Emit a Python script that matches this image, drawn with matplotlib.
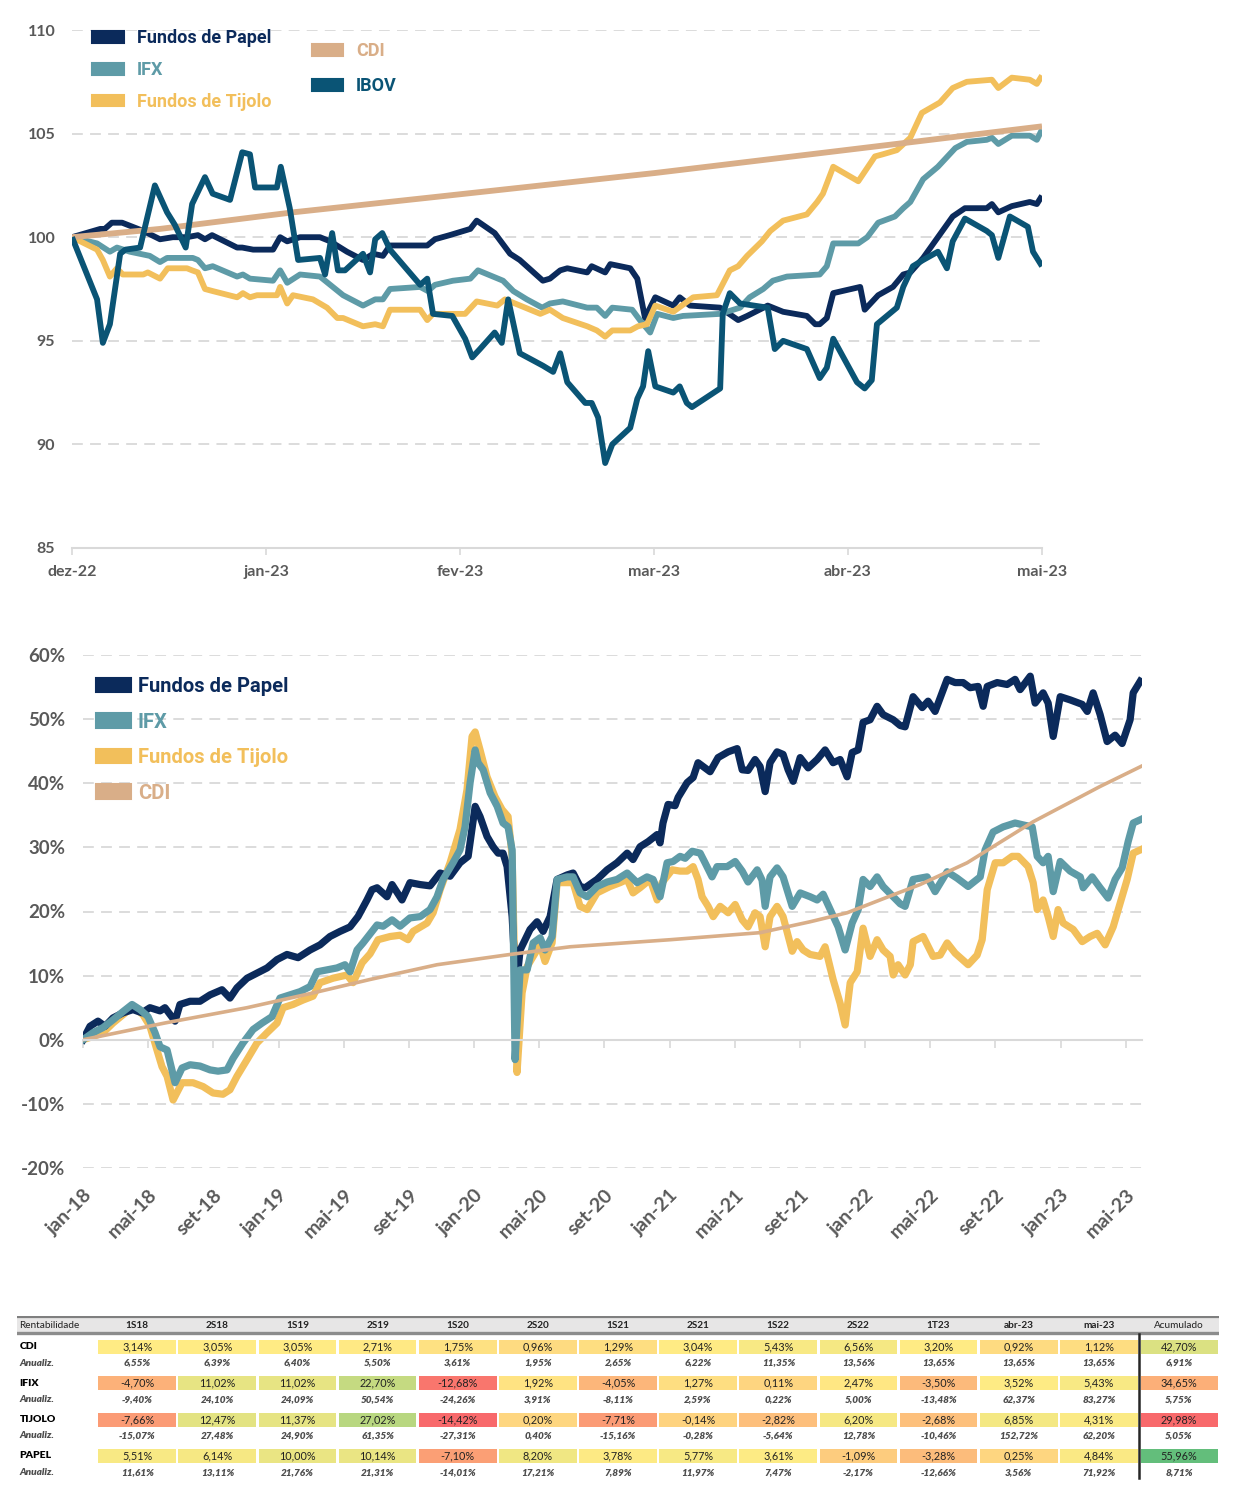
import numpy as np
import matplotlib
matplotlib.use("Agg")
import matplotlib.pyplot as plt
from matplotlib.patches import Patch, Rectangle

plt.rcParams['font.family'] = ['Lato', 'DejaVu Sans']

# ---------------- cores
c_papel = '#0B2A5B'
c_ifx = '#5E9BA7'
c_tijolo = '#F2BF5B'
c_cdi = '#D9AE88'
c_ibov = '#0A5475'
c_txt = '#595959'
c_grid = '#D9D9D9'

# ---------------- grafico 1: base 100 (dias desde 01/12/2022)
meses_top = ['dez-22', 'jan-23', 'fev-23', 'mar-23', 'abr-23', 'mai-23']

dias_ibov = [0, 3.9, 4.8, 5.9, 7.5, 8.3, 10.6, 12.9, 14.8, 16.0, 17.7, 18.7, 20.7, 21.9, 24.6, 26.5, 27.7, 28.5, 31.9, 32.5,
             33.9, 35.2, 38.6, 39.4, 40.5, 41.4, 42.5, 45.3, 46.4, 47.2, 48.3, 49.5, 54.2, 55.3, 56.2, 59.2, 61.2, 62.3, 63.5, 65.8,
             66.9, 67.9, 69.7, 73.3, 74.9, 76.0, 77.1, 79.9, 80.9, 81.9, 83.0, 84.1, 86.9, 88.0, 88.9, 89.7, 90.8, 93.6, 94.6, 95.7,
             96.5, 100.9, 101.3, 102.4, 104.0, 108.3, 109.4, 110.7, 114.4, 116.4, 117.5, 118.5, 122.2, 123.4, 124.5, 125.3, 128.4,
             129.4, 130.9, 132.5, 134.8, 136.2, 137.1, 139.0, 142.4, 143.2, 144.2, 146.0, 148.8, 149.6, 151.0]
ibov = [100, 97.0, 94.9, 95.8, 99.2, 99.4, 99.5, 102.5, 101.2, 100.6, 99.5, 101.6, 102.9, 102.1, 101.8, 104.1, 104.0, 102.4, 102.4, 103.4,
        101.4, 98.9, 99.0, 98.2, 100.2, 98.4, 98.4, 99.2, 98.3, 99.9, 100.2, 99.4, 97.7, 98.0, 96.3, 96.2, 95.1, 94.2, 94.6, 95.4,
        94.9, 97.0, 94.4, 93.8, 93.5, 94.4, 93.0, 92.0, 92.0, 91.3, 89.1, 90.0, 90.8, 92.2, 92.8, 94.5, 92.8, 92.5, 92.8, 92.0,
        91.8, 92.7, 96.3, 97.3, 96.8, 96.6, 94.6, 95.0, 94.6, 93.2, 93.7, 95.1, 93.0, 92.7, 93.1, 95.8, 96.6, 97.6, 98.6, 98.9,
        99.3, 98.5, 99.8, 100.9, 100.3, 100.1, 99.0, 101.0, 100.5, 99.3, 98.6]

dias_papel = [0, 4.4, 5.1, 6.2, 7.8, 11.1, 13.7, 15.7, 17.9, 19.6, 20.7, 21.8, 25.7, 26.5, 28.2, 31.3, 32.4, 33.5, 35.5, 38.6,
              40.2, 42.8, 45.3, 46.9, 48.4, 49.5, 55.3, 56.5, 58.8, 62.0, 63.0, 65.8, 68.2, 69.7, 73.3, 74.4, 76.0, 77.1, 80.2, 80.9,
              83.0, 83.8, 86.9, 88.0, 89.2, 90.8, 93.6, 94.6, 96.2, 100.9, 103.7, 105.1, 108.3, 110.7, 114.4, 115.7, 116.4, 117.5,
              118.5, 122.7, 123.4, 125.5, 127.8, 129.4, 130.5, 132.5, 137.1, 139.0, 142.4, 143.2, 144.2, 146.3, 149.1, 150.2, 151.0]
papel = [100, 100.4, 100.4, 100.7, 100.7, 100.3, 99.9, 100.0, 100.0, 100.1, 99.9, 100.1, 99.5, 99.5, 99.4, 99.4, 100.0, 99.8, 100.0, 100.0,
         99.8, 99.3, 98.9, 99.2, 99.1, 99.6, 99.6, 99.9, 100.1, 100.4, 100.8, 100.2, 99.2, 98.9, 97.9, 98.0, 98.4, 98.5, 98.3, 98.6,
         98.3, 98.7, 98.5, 98.0, 96.1, 97.1, 96.7, 97.1, 96.7, 96.6, 96.0, 96.2, 96.7, 96.4, 96.2, 95.8, 95.8, 96.1, 97.3, 97.6,
         96.5, 97.2, 97.6, 98.2, 98.3, 99.0, 101.0, 101.4, 101.4, 101.6, 101.2, 101.5, 101.7, 101.6, 102.0]

dias_ifx = [0, 3.9, 5.9, 7.0, 9.0, 12.1, 13.7, 14.8, 18.8, 19.6, 20.7, 21.9, 25.7, 26.6, 27.7, 31.3, 32.4, 33.5, 35.5, 38.6,
            42.2, 45.3, 47.2, 48.4, 49.5, 54.2, 55.4, 56.5, 59.3, 62.0, 63.2, 67.1, 68.7, 70.8, 73.2, 74.4, 76.4, 80.2, 81.7, 83.0,
            84.1, 87.2, 88.4, 90.0, 91.1, 93.6, 95.1, 100.9, 104.0, 105.5, 107.6, 109.1, 111.3, 116.4, 117.5, 118.5, 122.4, 123.8,
            125.5, 128.1, 129.4, 130.5, 132.5, 134.8, 137.5, 139.3, 142.4, 143.2, 144.2, 146.3, 149.1, 150.2, 151.0]
ifx = [100, 99.7, 99.3, 99.5, 99.3, 99.1, 98.8, 99.0, 99.0, 98.9, 98.5, 98.6, 98.1, 98.2, 98.0, 97.9, 98.4, 97.8, 98.2, 98.1,
       97.2, 96.7, 97.0, 97.0, 97.5, 97.6, 97.4, 97.7, 97.9, 98.0, 98.4, 97.9, 97.4, 97.0, 96.6, 96.8, 96.9, 96.6, 96.6, 96.2,
       96.6, 96.5, 96.0, 95.4, 96.3, 96.1, 96.2, 96.3, 96.6, 97.1, 97.5, 97.9, 98.1, 98.2, 98.6, 99.7, 99.7, 100.0, 100.7, 101.0,
       101.4, 101.7, 102.8, 103.4, 104.3, 104.6, 104.7, 104.8, 104.5, 104.9, 104.9, 104.7, 105.2]

dias_tijolo = [0, 3.9, 4.8, 5.9, 7.0, 7.9, 11.1, 11.8, 13.7, 14.9, 17.9, 18.7, 19.6, 20.7, 21.9, 25.7, 26.6, 27.7, 28.8, 31.9,
               32.4, 33.5, 34.4, 37.5, 39.7, 41.3, 42.2, 45.3, 47.2, 48.4, 49.5, 54.2, 55.3, 56.2, 61.2, 63.0, 66.2, 67.4, 72.9, 74.4,
               76.4, 80.2, 81.7, 83.0, 84.1, 86.9, 88.1, 89.5, 90.8, 93.6, 96.7, 100.4, 102.4, 103.7, 105.1, 107.4, 108.7, 110.7,
               114.4, 116.0, 116.9, 118.5, 122.4, 125.0, 126.2, 128.4, 130.5, 132.3, 135.1, 137.1, 139.3, 143.2, 144.2, 146.3,
               149.1, 150.2, 151.0]
tijolo = [100, 99.4, 98.9, 98.1, 98.5, 98.2, 98.2, 98.3, 98.0, 98.5, 98.5, 98.4, 98.3, 97.5, 97.4, 97.1, 97.3, 97.1, 97.2, 97.2,
          97.6, 96.8, 97.2, 97.0, 96.6, 96.1, 96.1, 95.7, 95.8, 95.7, 96.5, 96.5, 96.0, 96.3, 96.3, 96.9, 96.7, 97.0, 96.3, 96.5,
          96.1, 95.7, 95.5, 95.2, 95.5, 95.5, 95.7, 95.8, 96.7, 96.4, 97.1, 97.2, 98.4, 98.6, 99.1, 99.8, 100.3, 100.8, 101.1, 101.7,
          102.1, 103.4, 102.7, 103.9, 104.0, 104.2, 104.8, 106.0, 106.5, 107.2, 107.5, 107.6, 107.2, 107.7, 107.6, 107.4, 107.8]

dias_cdi = [0, 13.7, 34.4, 55.3, 76.0, 90.8, 120.3, 151.0]
cdi = [100, 100.4, 101.2, 101.9, 102.6, 103.1, 104.2, 105.35]

# ---------------- grafico 2: acumulado % (meses desde jan-18)
rotulos_base = ['jan-18', 'mai-18', 'set-18', 'jan-19', 'mai-19', 'set-19', 'jan-20', 'mai-20', 'set-20',
                'jan-21', 'mai-21', 'set-21', 'jan-22', 'mai-22', 'set-22', 'jan-23', 'mai-23']

meses_papel = [0, 0.43, 0.92, 1.35, 1.84, 2.46, 3.07, 3.62, 4.11, 4.73, 5.03, 5.65, 5.95, 6.57, 7.18, 7.80, 8.53, 9.02, 9.45, 10.07,
               10.68, 11.30, 11.91, 12.52, 13.20, 13.94, 14.55, 15.16, 15.78, 16.39, 16.88, 17.43, 17.74, 18.05, 18.66, 18.97,
               19.58, 20.07, 20.69, 21.30, 21.92, 22.53, 23.14, 23.64, 24.07, 24.37, 24.80, 25.17, 25.48, 25.78, 26.03, 26.34,
               26.58, 26.83, 27.44, 27.87, 28.24, 28.67, 29.10, 29.71, 30.08, 30.51, 30.82, 31.55, 32.17, 32.78, 33.40, 33.76,
               34.19, 34.69, 35.24, 35.42, 35.60, 35.91, 36.34, 36.53, 37.08, 37.45, 37.75, 38.49, 38.98, 39.60, 40.15, 40.46,
               40.82, 41.25, 41.56, 41.87, 42.17, 42.60, 42.97, 43.28, 43.59, 44.02, 44.51, 45.06, 45.55, 46.04, 46.47, 46.90,
               47.21, 47.58, 47.88, 48.31, 48.74, 49.11, 49.73, 50.16, 50.46, 50.95, 51.51, 51.87, 52.30, 53.04, 53.53, 54.02,
               54.45, 54.94, 55.25, 55.50, 56.11, 56.72, 57.21, 57.52, 58.14, 58.44, 58.93, 59.24, 59.55, 59.98, 60.59, 61.33,
               61.64, 62.00, 62.43, 62.86, 63.35, 63.78, 64.27, 64.46, 64.89]
papel_acum = [0, 2.1, 2.9, 2.1, 3.4, 4.2, 4.7, 4.2, 5.0, 4.5, 5.0, 2.9, 5.5, 6.0, 6.0, 7.0, 7.8, 6.5, 8.1, 9.6,
              10.4, 11.2, 12.5, 13.3, 12.8, 14.0, 14.8, 16.1, 16.9, 17.6, 19.2, 21.8, 23.4, 23.7, 22.3, 24.2, 21.8, 24.5, 24.2, 24.0,
              26.0, 25.5, 27.6, 28.6, 36.4, 34.8, 31.7, 30.1, 29.1, 29.1, 27.0, 19.2, 8.0, 14.0, 17.2, 18.4, 16.9, 19.2, 25.0, 25.7,
              26.0, 23.9, 23.7, 25.0, 26.5, 27.6, 29.1, 28.1, 30.1, 30.9, 32.0, 30.7, 33.8, 36.7, 36.5, 37.8, 40.1, 40.9, 43.2, 41.8,
              44.0, 44.9, 45.4, 42.1, 42.0, 43.7, 42.6, 38.7, 43.2, 44.9, 44.5, 42.1, 40.3, 44.0, 42.4, 43.7, 45.2, 43.2, 43.7, 41.0,
              44.8, 45.2, 49.5, 49.9, 52.0, 50.7, 49.9, 49.0, 48.8, 53.5, 51.8, 52.8, 51.2, 56.2, 55.7, 55.7, 54.9, 55.1, 52.0, 55.1,
              55.7, 55.4, 56.2, 54.6, 56.7, 52.5, 54.1, 52.5, 47.3, 53.5, 53.0, 52.3, 51.2, 54.1, 50.7, 46.5, 47.5, 46.2, 49.9, 54.1,
              55.9]

meses_ifx = [0, 0.61, 1.23, 1.84, 2.46, 3.01, 3.50, 3.99, 4.42, 4.73, 5.16, 5.65, 6.08, 6.57, 7.18, 7.80, 8.29, 8.84, 9.21, 9.82,
             10.44, 10.99, 11.60, 12.09, 12.71, 13.32, 13.94, 14.37, 14.98, 15.59, 16.08, 16.39, 16.82, 17.19, 17.62, 18.05,
             18.42, 18.97, 19.46, 20.07, 20.69, 21.30, 21.73, 22.10, 22.71, 23.14, 23.45, 23.76, 24.07, 24.25, 24.56, 24.99,
             25.42, 25.78, 26.09, 26.34, 26.52, 26.83, 27.26, 27.63, 28.06, 28.36, 28.79, 29.10, 29.71, 30.08, 30.51, 30.94,
             31.55, 32.17, 32.78, 33.40, 34.01, 34.62, 34.99, 35.42, 35.85, 36.22, 36.65, 36.96, 37.39, 37.88, 38.18, 38.61,
             38.92, 39.54, 40.03, 40.46, 40.82, 41.38, 41.68, 41.87, 42.17, 42.60, 42.97, 43.53, 44.02, 44.63, 45.06, 45.43,
             45.86, 46.35, 46.78, 47.21, 47.58, 47.88, 48.31, 48.74, 49.11, 49.73, 50.16, 50.46, 50.95, 51.81, 52.30, 53.04,
             53.65, 54.33, 55.07, 55.37, 55.86, 56.48, 57.21, 57.71, 58.26, 58.57, 58.93, 59.24, 59.55, 59.98, 60.59, 61.21,
             61.39, 61.94, 62.43, 62.92, 63.35, 63.78, 64.15, 64.46, 64.89]
ifx_acum = [0, 1.1, 1.9, 3.1, 4.4, 5.5, 4.7, 3.6, 1.1, -1.1, -1.6, -6.7, -4.4, -3.9, -4.1, -4.7, -4.9, -4.7, -2.9, -0.5,
            1.6, 2.6, 3.6, 6.5, 7.0, 7.5, 8.3, 10.6, 10.9, 11.2, 11.7, 10.6, 14.0, 15.1, 16.5, 17.9, 17.7, 18.7, 17.7, 19.0,
            19.2, 20.3, 22.3, 25.0, 27.6, 29.6, 33.2, 40.1, 45.2, 43.2, 42.1, 38.5, 36.4, 33.8, 33.2, 29.6, -3.1, 10.9, 10.9, 15.1,
            15.9, 14.0, 16.1, 25.0, 25.4, 25.4, 22.9, 22.3, 23.9, 24.6, 25.0, 26.0, 24.5, 25.4, 25.0, 22.3, 27.6, 27.8, 28.6, 28.3,
            29.4, 29.1, 27.6, 25.4, 27.0, 27.0, 27.8, 26.3, 24.6, 26.5, 24.9, 20.8, 25.4, 26.8, 25.4, 20.8, 22.9, 22.3, 21.8, 22.7,
            20.3, 17.6, 14.0, 18.2, 20.3, 25.0, 23.9, 25.4, 23.9, 22.3, 21.2, 20.8, 25.0, 25.4, 23.1, 26.2, 25.2, 23.9, 25.4, 29.6,
            32.4, 33.2, 33.8, 33.5, 33.2, 28.6, 27.6, 28.6, 23.1, 27.8, 26.3, 25.4, 23.7, 25.4, 23.7, 22.1, 25.0, 26.8, 30.9, 33.8,
            34.3]

meses_tijolo = [0, 0.61, 1.23, 1.84, 2.46, 3.07, 3.68, 4.11, 4.54, 4.85, 5.16, 5.53, 6.08, 6.75, 7.37, 7.98, 8.59, 9.02, 9.45, 10.07,
                10.68, 11.30, 11.91, 12.28, 12.89, 13.51, 14.12, 14.55, 15.35, 16.21, 16.58, 17.13, 17.62, 18.11, 18.85, 19.46,
                19.95, 20.26, 21.12, 21.49, 21.92, 22.53, 23.14, 23.57, 23.88, 24.07, 24.37, 24.80, 25.29, 25.72, 26.09, 26.34,
                26.64, 26.95, 27.26, 27.63, 28.06, 28.36, 28.79, 29.10, 29.71, 30.08, 30.51, 30.94, 31.55, 32.35, 32.97, 33.40,
                33.76, 34.19, 34.81, 35.24, 35.54, 35.85, 36.16, 36.65, 37.08, 37.45, 37.75, 38.00, 38.37, 38.68, 39.11, 39.60,
                40.03, 40.46, 40.82, 41.25, 41.56, 41.87, 42.17, 42.60, 42.97, 43.53, 43.83, 44.20, 44.63, 45.24, 45.55, 46.04,
                46.47, 46.78, 47.09, 47.52, 47.88, 48.31, 48.74, 49.11, 49.54, 49.73, 50.03, 50.46, 50.78, 50.95, 51.57, 52.18,
                52.61, 53.04, 53.53, 54.33, 54.88, 55.19, 55.50, 55.99, 56.48, 57.03, 57.40, 58.01, 58.32, 58.57, 58.93, 59.24,
                59.55, 59.85, 60.16, 60.78, 61.33, 61.82, 62.25, 62.74, 63.23, 63.66, 64.09, 64.46, 64.89]
tijolo_acum = [0, 0.5, 1.1, 2.6, 3.9, 5.2, 3.9, 2.1, -1.6, -4.2, -5.7, -9.4, -6.7, -6.7, -7.3, -8.3, -8.5, -7.8, -5.7, -3.1,
               -0.5, 1.1, 2.6, 5.0, 5.5, 6.2, 6.8, 8.9, 9.6, 10.1, 8.9, 12.0, 13.4, 15.6, 16.1, 16.3, 15.6, 16.9, 18.2, 19.8,
               23.4, 27.6, 32.8, 39.0, 47.3, 48.0, 45.2, 41.0, 37.9, 35.9, 34.8, 28.6, -5.1, 7.3, 11.4, 13.0, 14.8, 12.2, 15.1, 24.5,
               24.5, 24.5, 20.8, 20.3, 22.9, 23.9, 24.5, 25.0, 22.9, 23.7, 25.0, 21.8, 24.5, 25.5, 26.5, 26.3, 26.3, 27.0, 25.0, 22.3,
               20.8, 19.2, 20.8, 19.8, 21.1, 18.7, 17.6, 19.8, 19.2, 14.5, 19.2, 20.8, 19.2, 13.8, 15.3, 14.0, 13.3, 13.0, 14.5, 9.4,
               5.7, 2.3, 8.9, 10.6, 17.4, 13.0, 15.6, 14.0, 13.0, 10.1, 11.7, 10.1, 11.7, 15.3, 16.1, 13.0, 13.2, 15.1, 13.5, 11.7,
               13.2, 15.6, 23.4, 27.6, 27.6, 28.6, 28.6, 27.0, 24.5, 20.3, 21.8, 19.2, 16.1, 20.3, 18.2, 17.2, 15.3, 16.1, 16.6, 14.8,
               17.6, 21.3, 25.0, 29.1, 29.6]

meses_cdi = [0, 5.0, 10.07, 14.12, 17.62, 21.73, 26.21, 29.90, 36.04, 41.56, 44.63, 46.90, 49.73, 51.38, 54.27, 58.32, 62.43, 65.0]
cdi_acum = [0, 2.6, 5.0, 7.3, 9.4, 11.7, 13.3, 14.5, 15.6, 16.7, 18.4, 19.8, 22.6, 24.2, 27.6, 34.0, 39.5, 42.7]

# ---------------- tabela
periodos = ['1S18', '2S18', '1S19', '2S19', '1S20', '2S20', '1S21', '2S21', '1S22', '2S22', '1T23', 'abr-23', 'mai-23']
ativos = ['CDI', 'IFIX', 'TIJOLO', 'PAPEL']
tab_cdi = [3.14, 3.05, 3.05, 2.71, 1.75, 0.96, 1.29, 3.04, 5.43, 6.56, 3.20, 0.92, 1.12]
tab_cdi_anual = [6.55, 6.39, 6.40, 5.50, 3.61, 1.95, 2.65, 6.22, 11.35, 13.56, 13.65, 13.65, 13.65]
tab_ifix = [-4.70, 11.02, 11.02, 22.70, -12.68, 1.92, -4.05, 1.27, 0.11, 2.47, -3.50, 3.52, 5.43]
tab_ifix_anual = [-9.40, 24.10, 24.09, 50.54, -24.26, 3.91, -8.11, 2.59, 0.22, 5.00, -13.48, 62.37, 83.27]
tab_tijolo = [-7.66, 12.47, 11.37, 27.02, -14.42, 0.20, -7.71, -0.14, -2.82, 6.20, -2.68, 6.85, 4.31]
tab_tijolo_anual = [-15.07, 27.48, 24.90, 61.35, -27.31, 0.40, -15.16, -0.28, -5.64, 12.78, -10.46, 152.72, 62.20]
tab_papel = [5.51, 6.14, 10.00, 10.14, -7.10, 8.20, 3.78, 5.77, 3.61, -1.09, -3.28, 0.25, 4.84]
tab_papel_anual = [11.61, 13.11, 21.76, 21.31, -14.01, 17.21, 7.89, 11.97, 7.47, -2.17, -12.66, 3.56, 71.92]
acumulado = [42.70, 34.65, 29.98, 55.96]
acumulado_anual = [6.91, 5.75, 5.05, 8.71]


def pct(v):
    return f"{v:.2f}".replace('.', ',') + '%'


VERMELHO = (248, 105, 107)
AMARELO = (255, 235, 132)
VERDE = (99, 190, 123)


def cor_escala(v, lo, meio, hi):
    if v <= meio:
        t, b = (meio - v) / (meio - lo), VERMELHO
    else:
        t, b = (v - meio) / (hi - meio), VERDE
    t = min(max(t, 0), 1)
    return tuple((AMARELO[i] + t * (b[i] - AMARELO[i])) / 255 for i in range(3))


fig = plt.figure(figsize=(12.46, 14.98), dpi=100)

# ================= grafico 1
ax1 = fig.add_axes([72 / 1246, 1 - 548 / 1498, 970 / 1246, 518 / 1498])
kw = dict(lw=4.2, solid_joinstyle='round', solid_capstyle='butt')
ax1.plot(dias_papel, papel, color=c_papel, **kw)
ax1.plot(dias_ifx, ifx, color=c_ifx, **kw)
ax1.plot(dias_tijolo, tijolo, color=c_tijolo, **kw)
ax1.plot(dias_cdi, cdi, color=c_cdi, **kw)
ax1.plot(dias_ibov, ibov, color=c_ibov, **kw)
ax1.set_xlim(0, 151)
ax1.set_ylim(85, 110)
ax1.set_yticks([85, 90, 95, 100, 105, 110])
ax1.set_xticks(np.linspace(0, 151, 6), meses_top)
ax1.yaxis.grid(True, ls=(0, (6, 4)), color=c_grid, lw=1.3)
ax1.set_axisbelow(True)
for s in ['left', 'right', 'top']:
    ax1.spines[s].set_visible(False)
ax1.spines['bottom'].set_color(c_grid)
ax1.spines['bottom'].set_linewidth(1.5)
ax1.tick_params(axis='y', length=0, pad=12, labelsize=11.5, labelcolor=c_txt)
ax1.tick_params(axis='x', length=5, width=1.2, color=c_grid, pad=7, labelsize=11.5, labelcolor=c_txt)
for lbl in ax1.get_xticklabels() + ax1.get_yticklabels():
    lbl.set_fontweight('bold')

fonte_leg1 = {'family': 'Roboto', 'weight': 'bold', 'size': 13}
h1 = [Patch(fc=c, ec=c, lw=1.5, joinstyle='round') for c in [c_papel, c_ifx, c_tijolo]]
leg1 = ax1.legend(h1, ['Fundos de Papel', 'IFX', 'Fundos de Tijolo'], loc='upper left',
                  bbox_to_anchor=(0.021, 1.001), frameon=False, prop=fonte_leg1, borderpad=0,
                  borderaxespad=0, handlelength=1.75, handleheight=0.62, handletextpad=0.7, labelspacing=0.76)
for t, c in zip(leg1.get_texts(), [c_papel, c_ifx, c_tijolo]):
    t.set_color(c)
ax1.add_artist(leg1)
h2 = [Patch(fc=c, ec=c, lw=1.5, joinstyle='round') for c in [c_cdi, c_ibov]]
leg2 = ax1.legend(h2, ['CDI', 'IBOV'], loc='upper left', bbox_to_anchor=(0.247, 0.976), frameon=False,
                  prop=fonte_leg1, borderpad=0, borderaxespad=0, handlelength=1.75, handleheight=0.62,
                  handletextpad=0.7, labelspacing=0.94)
for t, c in zip(leg2.get_texts(), [c_cdi, c_ibov]):
    t.set_color(c)

# ================= grafico 2
ax2 = fig.add_axes([83 / 1246, 1 - 1168 / 1498, 1059 / 1246, 513 / 1498])
kw2 = dict(lw=5.2, solid_joinstyle='round')
ax2.plot(meses_tijolo, tijolo_acum, color=c_tijolo, **kw2)
ax2.plot(meses_papel, papel_acum, color=c_papel, **kw2)
ax2.plot(meses_ifx, ifx_acum, color=c_ifx, **kw2)
ax2.plot(meses_cdi, cdi_acum, color=c_cdi, lw=2.6)
ax2.set_xlim(0, 65)
ax2.set_ylim(-20, 60)
yt = list(range(-20, 61, 10))
ax2.set_yticks(yt, [f"{v}%" for v in yt])
ticks_base = list(range(0, 65, 4))
ax2.set_xticks(ticks_base)
ax2.yaxis.grid(True, ls=(0, (6, 4)), color=c_grid, lw=1.3)
ax2.set_axisbelow(True)
for s in ['left', 'right', 'top']:
    ax2.spines[s].set_visible(False)
ax2.spines['bottom'].set_position(('data', 0))
ax2.spines['bottom'].set_color(c_grid)
ax2.spines['bottom'].set_linewidth(1.5)
ax2.tick_params(axis='x', length=6, width=1.2, color=c_grid, labelbottom=False)
ax2.tick_params(axis='y', length=0, pad=13, labelsize=13.5, labelcolor=c_txt)
for lbl in ax2.get_yticklabels():
    lbl.set_fontweight('bold')
sec = ax2.secondary_xaxis('bottom')
sec.set_xticks(ticks_base, rotulos_base, rotation=45, ha='right', rotation_mode='anchor',
               fontsize=14, fontweight='bold', color=c_txt)
sec.tick_params(length=0, pad=13)
sec.spines['bottom'].set_visible(False)

fonte_leg2 = {'family': 'Roboto', 'weight': 'bold', 'size': 14.5}
cores2 = [c_papel, c_ifx, c_tijolo, c_cdi]
h3 = [Patch(fc=c, ec=c, lw=1.5, joinstyle='round') for c in cores2]
leg3 = ax2.legend(h3, ['Fundos de Papel', 'IFX', 'Fundos de Tijolo', 'CDI'], loc='upper left',
                  bbox_to_anchor=(0.012, 0.957), frameon=False, prop=fonte_leg2, borderpad=0,
                  borderaxespad=0, handlelength=1.75, handleheight=0.72, handletextpad=0.35, labelspacing=0.82)
for t, c in zip(leg3.get_texts(), cores2):
    t.set_color(c)

# ================= tabela
ax3 = fig.add_axes([17 / 1246, 1 - 1480 / 1498, 1202 / 1246, 164 / 1498])
ax3.set_xlim(0, 15)
ax3.set_ylim(164, 0)
ax3.axis('off')

ax3.add_patch(Rectangle((0, 1.5), 15, 15.5, fc='#E7E6E6', ec='none'))
ax3.plot([0, 15], [1.2, 1.2], color='#7F7F7F', lw=1.6)
ax3.plot([0, 15], [17.2, 17.2], color='#8C8C8C', lw=2.4)
ax3.text(0.03, 9.5, 'Rentabilidade', fontsize=7.2, va='center', ha='left', color='#222222')
for k, p in enumerate(periodos):
    ax3.text(k + 1.5, 9.5, p, fontsize=7.2, fontweight='bold', va='center', ha='center', color='#222222')
ax3.text(14.5, 9.5, 'Acumulado', fontsize=7.2, va='center', ha='center', color='#222222')

linhas = [tab_cdi, tab_ifix, tab_tijolo, tab_papel]
anuais = [tab_cdi_anual, tab_ifix_anual, tab_tijolo_anual, tab_papel_anual]
todos = np.concatenate(linhas)
esc_lo, esc_meio, esc_hi = todos.min(), np.percentile(todos, 50), max(acumulado)
ac_lo, ac_meio, ac_hi = min(acumulado), np.percentile(acumulado, 50), max(acumulado)

for g, (nome, vals, anu) in enumerate(zip(ativos, linhas, anuais)):
    yc = 30.5 + 36.5 * g
    ya = yc + 16.5
    ax3.text(0.03, yc, nome, fontsize=7.5, fontweight='heavy', va='center', ha='left', color='black')
    ax3.text(0.03, ya, 'Anualiz.', fontsize=7.2, fontweight='heavy', fontstyle='italic', va='center',
             ha='left', color='#4D4D4D')
    for k, (v, a) in enumerate(zip(vals, anu)):
        cor = cor_escala(v, esc_lo, esc_meio, esc_hi)
        ax3.add_patch(Rectangle((k + 1.015, yc - 7), 0.97, 14, fc=cor, ec='none'))
        ax3.text(k + 1.5, yc, pct(v), fontsize=7.8, va='center', ha='center', color='#222222')
        ax3.text(k + 1.5, ya, pct(a), fontsize=7.2, fontweight='heavy', fontstyle='italic', va='center',
                 ha='center', color='#4D4D4D')
    cor = cor_escala(acumulado[g], ac_lo, ac_meio, ac_hi)
    ax3.add_patch(Rectangle((14.03, yc - 7), 0.96, 14, fc=cor, ec='none'))
    ax3.text(14.5, yc, pct(acumulado[g]), fontsize=7.8, va='center', ha='center', color='#222222')
    ax3.text(14.5, ya, pct(acumulado_anual[g]), fontsize=7.2, fontweight='heavy', fontstyle='italic',
             va='center', ha='center', color='#4D4D4D')

ax3.plot([14, 14], [18, 162], color='#262626', lw=1.8)

fig.savefig('out.png', dpi=100, facecolor='white')
